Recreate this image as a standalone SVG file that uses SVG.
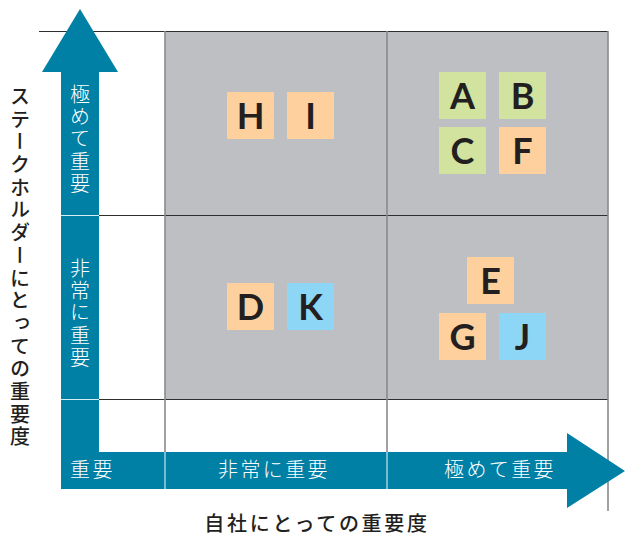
<svg xmlns="http://www.w3.org/2000/svg" width="625" height="536" viewBox="0 0 625 536">
<style>
.gl{stroke:#2e2e2e;stroke-width:1;fill:none}
.vl{stroke:#8a8a8c;stroke-width:1.6;fill:none}
.wl{stroke:#ffffff;stroke-width:1;opacity:0.85}
.bl{stroke:#a9d4e2;stroke-width:1.4}
.ax{fill:#ffffff;font-family:"Noto Sans CJK JP","Noto Sans",sans-serif;font-weight:300;font-size:20px;letter-spacing:2.4px}
.vt{writing-mode:vertical-rl;text-anchor:middle}
.ttl{fill:#231f20;font-family:"Noto Sans CJK JP","Noto Sans",sans-serif;font-weight:500;font-size:20px;letter-spacing:2.7px}
.bx text{font-family:Lato,"Noto Sans",sans-serif;font-weight:700;font-size:36px;fill:#231f20;text-anchor:middle}
.o{fill:#fed09d}.g{fill:#d1e39e}.b{fill:#8ed6f6}
</style>
<rect x="0" y="0" width="625" height="536" fill="#ffffff"/>
<rect x="165" y="31" width="443" height="368" fill="#bebfc3"/>
<g id="grid">
<line class="gl" x1="39" y1="31.5" x2="608" y2="31.5"/>
<line class="gl" x1="99" y1="215.5" x2="608" y2="215.5"/>
<line class="gl" x1="99" y1="399.5" x2="608" y2="399.5"/>
<line class="vl" x1="165" y1="31" x2="165" y2="452"/>
<line class="vl" x1="387" y1="31" x2="387" y2="452"/>
<line class="vl" x1="608" y1="31" x2="608" y2="511"/>
</g>
<g id="connectors">
<path d="M80,9 L118,72 L99,72 L99,452 L567,452 L567,433 L625,471 L567,508 L567,489 L61,489 L61,72 L42,72 Z" fill="#0080a5"/>
<line class="wl" x1="61" y1="215.5" x2="99" y2="215.5"/>
<line class="wl" x1="61" y1="399.5" x2="99" y2="399.5"/>
<line class="bl" x1="165" y1="452" x2="165" y2="489"/>
<line class="bl" x1="387" y1="452" x2="387" y2="489"/>
</g>
<g id="axis-labels">
<text class="ax vt" x="80" y="140">極めて重要</text>
<text class="ax vt" x="80" y="314">非常に重要</text>
<text class="ax" x="70" y="477">重要</text>
<text class="ax" x="274" y="477" text-anchor="middle">非常に重要</text>
<text class="ax" x="500" y="477" text-anchor="middle">極めて重要</text>
</g>
<g id="titles">
<text class="ttl vt" x="20" y="268">ステークホルダーにとっての重要度</text>
<text class="ttl" x="317" y="531" text-anchor="middle">自社にとっての重要度</text>
</g>
<g class="bx">
<g id="node-H"><rect class="o" x="227" y="92" width="47" height="47"/><text x="250.5" y="128.5">H</text></g>
<g id="node-I"><rect class="o" x="287" y="92" width="47" height="47"/><text x="310.5" y="128.5">I</text></g>
<g id="node-A"><rect class="g" x="439" y="72" width="47" height="47"/><text x="462.5" y="108.5">A</text></g>
<g id="node-B"><rect class="g" x="499" y="72" width="47" height="47"/><text x="522.5" y="108.5">B</text></g>
<g id="node-C"><rect class="g" x="439" y="127" width="47" height="47"/><text x="462.5" y="163.5">C</text></g>
<g id="node-F"><rect class="o" x="499" y="127" width="47" height="47"/><text x="522.5" y="163.5">F</text></g>
<g id="node-D"><rect class="o" x="227" y="283" width="47" height="47"/><text x="250.5" y="319.5">D</text></g>
<g id="node-K"><rect class="b" x="287" y="283" width="47" height="47"/><text x="310.5" y="319.5">K</text></g>
<g id="node-E"><rect class="o" x="467" y="257" width="47" height="47"/><text x="490.5" y="293.5">E</text></g>
<g id="node-G"><rect class="o" x="439" y="313" width="47" height="47"/><text x="462.5" y="349.5">G</text></g>
<g id="node-J"><rect class="b" x="499" y="313" width="47" height="47"/><text x="522.5" y="349.5">J</text></g>
</g>
</svg>
